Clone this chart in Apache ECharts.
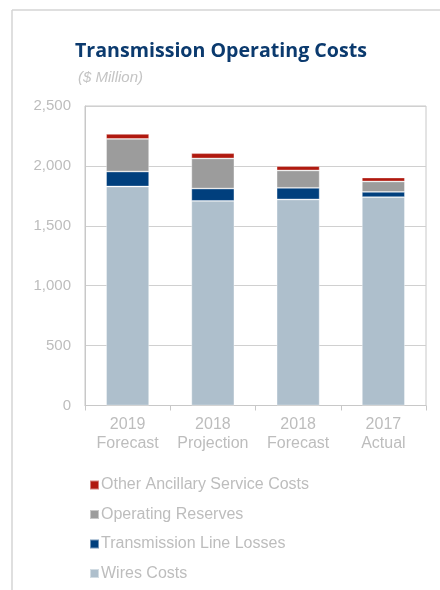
<!DOCTYPE html>
<html>
<head>
<meta charset="utf-8">
<script src="https://cdn.jsdelivr.net/npm/echarts@6/dist/echarts.min.js"></script>
<style>
html,body{margin:0;padding:0;background:#fff;}
#c{width:440px;height:590px;}
</style>
</head>
<body>
<div id="c"></div>
<script>
const categories = ['2019\nForecast', '2018\nProjection', '2018\nForecast', '2017\nActual'];
const wiresCosts = [1828, 1708, 1720, 1739];
const lineLosses = [125, 103, 97, 44];
const operatingReserves = [272, 251, 145, 87];
const otherAncillary = [42, 44, 36, 33];
const yTicks = [0, 500, 1000, 1500, 2000, 2500];

const colors = {
  wires: '#aebfcc',
  losses: '#003f7d',
  reserves: '#9c9c9c',
  other: '#b0190f'
};
const labelColor = '#bdbdbd';
const font = 'Liberation Sans, Arial, sans-serif';

const chart = echarts.init(document.getElementById('c'), null, {renderer: 'canvas'});
function bar(name, data, color) {
  return {
    name: name, type: 'bar', stack: 'total', data: data, barWidth: 43,
    itemStyle: {color: color, borderColor: 'rgba(255,255,255,0.45)', borderWidth: 0.8},
    emphasis: {disabled: true}
  };
}
chart.setOption({
  animation: false,
  backgroundColor: '#fff',
  title: [{
    text: 'Transmission Operating Costs',
    left: 70, top: 36,
    textStyle: {fontFamily: 'Open Sans, sans-serif', fontWeight: 'bold', fontSize: 19.6, color: '#0b3a6e'}
  }, {
    text: '($ Million)',
    left: 73, top: 65,
    textStyle: {fontFamily: font, fontStyle: 'italic', fontWeight: 'normal', fontSize: 15, color: '#c4c4c4'}
  }],
  graphic: [
    {type: 'line', shape: {x1: 12, y1: 10, x2: 440, y2: 10}, style: {stroke: '#d4d4d4', lineWidth: 1.5}},
    {type: 'line', shape: {x1: 12, y1: 10, x2: 12, y2: 590}, style: {stroke: '#d4d4d4', lineWidth: 1.5}}
  ],
  legend: {
    orient: 'vertical',
    left: 84, top: 472,
    itemWidth: 9, itemHeight: 9, itemGap: 13.5,
    icon: 'rect',
    data: ['Other Ancillary Service Costs', 'Operating Reserves', 'Transmission Line Losses', 'Wires Costs'],
    textStyle: {fontFamily: font, fontSize: 16, color: labelColor, padding: [0, 0, 0, -3]}
  },
  grid: {
    left: 85, right: 14, top: 106, bottom: 184.5,
    show: true, borderColor: '#c8c8c8', borderWidth: 1
  },
  xAxis: {
    type: 'category',
    data: categories,
    axisLine: {lineStyle: {color: '#c8c8c8', width: 1}},
    axisTick: {show: true, length: 5, lineStyle: {color: '#c8c8c8'}},
    axisLabel: {interval: 0, fontFamily: font, fontSize: 16, color: labelColor, margin: 10, lineHeight: 19}
  },
  yAxis: {
    type: 'value',
    min: yTicks[0], max: yTicks[yTicks.length - 1], interval: 500,
    axisLine: {show: true, lineStyle: {color: '#c8c8c8', width: 1}},
    axisTick: {show: false},
    splitLine: {lineStyle: {color: '#d0d0d0', width: 1}},
    axisLabel: {
      fontFamily: font, fontSize: 15, color: labelColor, margin: 14,
      formatter: v => v.toLocaleString('en-US')
    }
  },
  series: [
    bar('Wires Costs', wiresCosts, colors.wires),
    bar('Transmission Line Losses', lineLosses, colors.losses),
    bar('Operating Reserves', operatingReserves, colors.reserves),
    bar('Other Ancillary Service Costs', otherAncillary, colors.other)
  ]
});
</script>
</body>
</html>
